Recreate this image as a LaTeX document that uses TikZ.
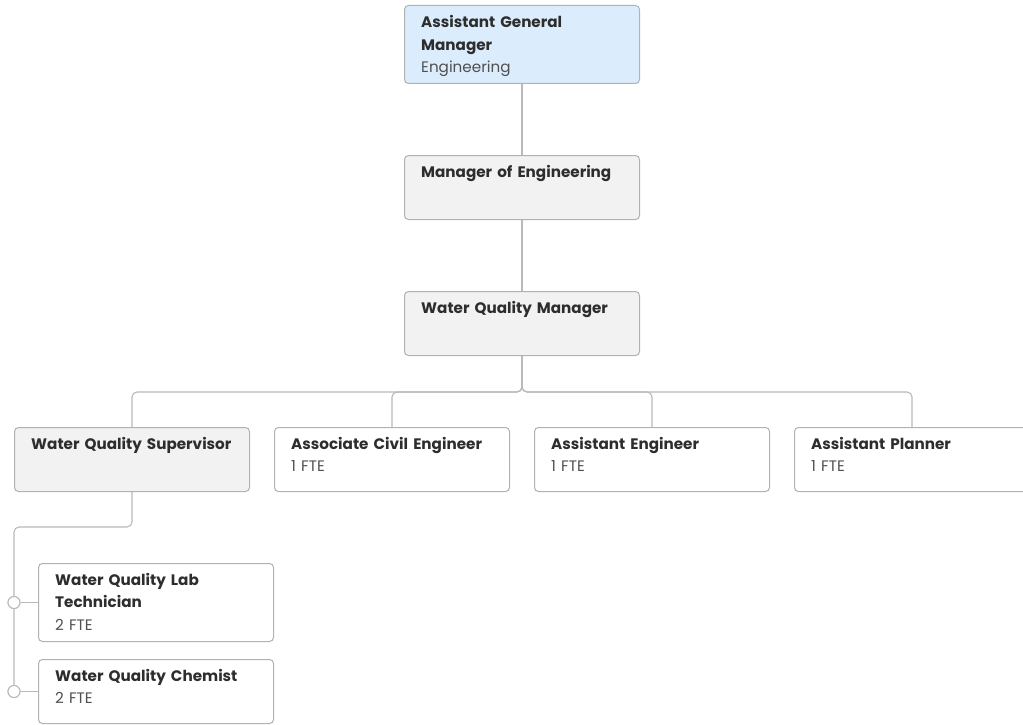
\documentclass[tikz,border=0pt]{standalone}
\usepackage{fontspec}
\setmainfont{Poppins}

\definecolor{boxline}{RGB}{178,178,178}
\definecolor{wireline}{RGB}{185,185,185}
\definecolor{graybox}{RGB}{242,242,242}
\definecolor{bluebox}{RGB}{219,236,253}
\definecolor{titletext}{RGB}{45,45,45}
\definecolor{subtext}{RGB}{80,80,80}

\begin{document}
\begin{tikzpicture}[x=1pt, y=-1pt,
    card/.style={draw=boxline, line width=1pt, rounded corners=4pt, fill=white,
        minimum width=235pt, minimum height=64pt, anchor=north west, inner sep=0pt},
    tall/.style={minimum height=78pt},
    info/.style={anchor=north west, inner sep=0pt, text width=215pt, align=left,
        font=\fontsize{15.2}{22.5}\selectfont, text=subtext},
    conn/.style={draw=wireline, line width=1.1pt, rounded corners=5pt},
    dot/.style={circle, draw=wireline, line width=1pt, fill=white, inner sep=0pt, minimum size=12pt}]

    \useasboundingbox (0,0) rectangle (1023,725);

    % top chain
    \node[card, tall, fill=bluebox] (agm) at (404,5) {};
    \node[card, fill=graybox] (engmgr) at (404,155) {};
    \node[card, fill=graybox] (wqmgr) at (404,291) {};

    % direct reports
    \node[card, fill=graybox] (wqsup) at (14,427) {};
    \node[card] (civeng) at (274,427) {};
    \node[card] (asseng) at (534,427) {};
    \node[card] (planner) at (794,427) {};

    % supervisor's staff
    \node[card, tall] (labtech) at (38,563) {};
    \node[card] (chemist) at (38,659) {};

    % texts
    \node[info] (agm-t) at (421,11.75) {\strut\textbf{\color{titletext}Assistant General}\\\textbf{\color{titletext}Manager}\\Engineering};
    \node[info] (engmgr-t) at (421,161.25) {\strut\textbf{\color{titletext}Manager of Engineering}};
    \node[info] (wqmgr-t) at (421,297.25) {\strut\textbf{\color{titletext}Water Quality Manager}};
    \node[info] (wqsup-t) at (31,433.25) {\strut\textbf{\color{titletext}Water Quality Supervisor}};
    \node[info] (civeng-t) at (291,433.25) {\strut\textbf{\color{titletext}Associate Civil Engineer}\\1 FTE};
    \node[info] (asseng-t) at (551,433.25) {\strut\textbf{\color{titletext}Assistant Engineer}\\1 FTE};
    \node[info] (planner-t) at (811,433.25) {\strut\textbf{\color{titletext}Assistant Planner}\\1 FTE};
    \node[info] (labtech-t) at (55,569.25) {\strut\textbf{\color{titletext}Water Quality Lab}\\\textbf{\color{titletext}Technician}\\2 FTE};
    \node[info] (chemist-t) at (55,665.25) {\strut\textbf{\color{titletext}Water Quality Chemist}\\2 FTE};

    % connectors
    \draw[conn] (agm) -- (engmgr);
    \draw[conn] (engmgr) -- (wqmgr);
    \foreach \kid in {wqsup, civeng, asseng, planner}
        \draw[conn] (wqmgr.south) -- ++(0,36) -| (\kid.north);

    \coordinate (rail) at (14,527);
    \node[dot] (dot1) at (labtech.west -| rail) {};
    \node[dot] (dot2) at (chemist.west -| rail) {};
    \draw[conn] (wqsup.south) |- (rail) -- (dot2.north);
    \draw[conn] (dot1) -- (labtech);
    \draw[conn] (dot2) -- (chemist);
    \node[dot] at (dot1) {};
    \node[dot] at (dot2) {};

\end{tikzpicture}
\end{document}
